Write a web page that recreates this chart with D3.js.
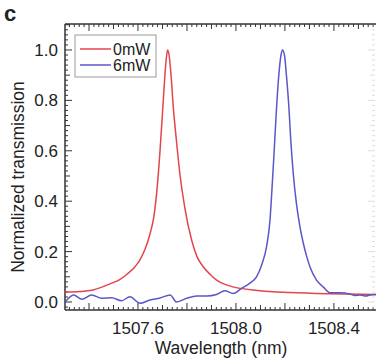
<!DOCTYPE html>
<html>
<head>
<meta charset="utf-8">
<script src="https://cdn.jsdelivr.net/npm/d3@7"></script>
<style>
  body { margin: 0; background: #fff; }
  text { font-family: "Liberation Sans", Arial, sans-serif; fill: #222; }
</style>
</head>
<body>
<div id="chart"></div>
<script>
// data
const redWave = [1507.302, 1507.363, 1507.416, 1507.486, 1507.527, 1507.555, 1507.588, 1507.608, 1507.629, 1507.649,
  1507.665, 1507.678, 1507.690, 1507.702, 1507.710, 1507.716, 1507.721, 1507.727, 1507.735, 1507.744,
  1507.757, 1507.771, 1507.792, 1507.819, 1507.841, 1507.864, 1507.894, 1507.921, 1507.955, 1507.988,
  1508.098, 1508.220, 1508.384, 1508.580];
const redVal = [0.040, 0.042, 0.048, 0.072, 0.090, 0.110, 0.140, 0.167, 0.210, 0.270,
  0.340, 0.450, 0.600, 0.780, 0.900, 0.970, 1.000, 0.980, 0.900, 0.775,
  0.640, 0.510, 0.370, 0.246, 0.180, 0.143, 0.110, 0.087, 0.070, 0.060,
  0.045, 0.038, 0.033, 0.030];

const blueWave = [1507.303, 1507.337, 1507.371, 1507.411, 1507.452, 1507.493, 1507.533, 1507.567, 1507.608, 1507.649,
  1507.690, 1507.731, 1507.758, 1507.799, 1507.840, 1507.880, 1507.921, 1507.955, 1507.989, 1508.023,
  1508.057, 1508.084, 1508.106, 1508.125, 1508.139, 1508.146, 1508.155, 1508.166, 1508.175, 1508.184,
  1508.190, 1508.198, 1508.206, 1508.216, 1508.224, 1508.234, 1508.247, 1508.261, 1508.275, 1508.289,
  1508.302, 1508.329, 1508.356, 1508.384, 1508.424, 1508.465, 1508.486, 1508.506, 1508.531, 1508.547, 1508.580];
const blueVal = [0.000, 0.028, 0.011, 0.028, 0.015, 0.017, 0.005, 0.021, -0.005, 0.008,
  0.016, 0.028, 0.000, 0.015, 0.024, 0.024, 0.030, 0.045, 0.034, 0.054,
  0.075, 0.100, 0.150, 0.220, 0.325, 0.430, 0.580, 0.775, 0.900, 0.980,
  1.000, 0.980, 0.900, 0.775, 0.640, 0.510, 0.390, 0.300, 0.233, 0.180,
  0.140, 0.087, 0.060, 0.037, 0.037, 0.032, 0.026, 0.028, 0.024, 0.028, 0.030];

const seriesNames = ['0mW', '6mW'];
const seriesColors = ['#e2454b', '#5b57c9'];
const xTicks = [1507.6, 1508.0, 1508.4];
const yTicks = [0.0, 0.2, 0.4, 0.6, 0.8, 1.0];

const W = 376, H = 358;
const plotLeft = 65, plotRight = 378, plotTop = 24, plotBottom = 310;

const svg = d3.select('#chart').append('svg')
  .attr('width', W).attr('height', H);

const x = d3.scaleLinear().domain([1507.302, 1508.580]).range([plotLeft, plotRight]);
const y = d3.scaleLinear().domain([-0.0317, 1.103]).range([plotBottom, plotTop]);

const axisColor = '#333';

// minor / major ticks, all pointing inward
const g = svg.append('g');
d3.range(1507.32, 1508.58, 0.02).forEach(v => {
  const k = Math.round(v * 100);
  const len = k % 20 === 0 ? 7 : (k % 10 === 0 ? 5 : 3);
  g.append('line').attr('x1', x(v)).attr('x2', x(v))
    .attr('y1', plotBottom).attr('y2', plotBottom - len)
    .attr('stroke', axisColor).attr('stroke-width', 1);
  g.append('line').attr('x1', x(v)).attr('x2', x(v))
    .attr('y1', plotTop).attr('y2', plotTop + len)
    .attr('stroke', axisColor).attr('stroke-width', 1);
});
d3.range(-0.02, 1.1, 0.02).forEach(v => {
  const k = Math.round(v * 100);
  const len = k % 20 === 0 ? 7 : (k % 10 === 0 ? 5 : 3);
  g.append('line').attr('x1', plotLeft).attr('x2', plotLeft + len)
    .attr('y1', y(v)).attr('y2', y(v))
    .attr('stroke', axisColor).attr('stroke-width', 1);
  g.append('line').attr('x1', 375).attr('x2', 375 - len)
    .attr('y1', y(v)).attr('y2', y(v))
    .attr('stroke', '#ddd').attr('stroke-width', 1);
});

// frame
g.append('line').attr('x1', plotLeft).attr('x2', plotRight).attr('y1', plotTop).attr('y2', plotTop)
  .attr('stroke', axisColor).attr('stroke-width', 1.5);
g.append('line').attr('x1', plotLeft).attr('x2', plotRight).attr('y1', plotBottom).attr('y2', plotBottom)
  .attr('stroke', axisColor).attr('stroke-width', 1.5);
g.append('line').attr('x1', plotLeft).attr('x2', plotLeft).attr('y1', plotTop).attr('y2', plotBottom)
  .attr('stroke', axisColor).attr('stroke-width', 1.5);

// tick labels
xTicks.forEach(v => {
  svg.append('text').attr('x', x(v)).attr('y', 334)
    .attr('text-anchor', 'middle').style('font-size', '17px')
    .text(d3.format('.1f')(v));
});
yTicks.forEach(v => {
  svg.append('text').attr('x', 58).attr('y', y(v) + 6)
    .attr('text-anchor', 'end').style('font-size', '17px')
    .text(d3.format('.1f')(v));
});

// axis titles
svg.append('text').attr('x', 221).attr('y', 354)
  .attr('text-anchor', 'middle').style('font-size', '17.5px')
  .text('Wavelength (nm)');
svg.append('text')
  .attr('transform', `translate(24, ${(plotTop + plotBottom) / 2 + 10}) rotate(-90)`)
  .attr('text-anchor', 'middle').style('font-size', '17.5px')
  .text('Normalized transmission');

svg.append('text').attr('x', 4).attr('y', 21)
  .style('font-size', '22px').style('font-weight', 'bold')
  .text('c');

// curves
const line = d3.line()
  .x(d => x(d[0])).y(d => y(d[1]))
  .curve(d3.curveMonotoneX);

svg.append('clipPath').attr('id', 'clip')
  .append('rect').attr('x', plotLeft).attr('y', plotTop)
  .attr('width', plotRight - plotLeft).attr('height', plotBottom - plotTop);

const redData = redWave.map((w, i) => [w, redVal[i]]);
const blueData = blueWave.map((w, i) => [w, blueVal[i]]);

svg.append('path').datum(redData)
  .attr('clip-path', 'url(#clip)')
  .attr('fill', 'none').attr('stroke', seriesColors[0]).attr('stroke-width', 1.5)
  .attr('d', line);
svg.append('path').datum(blueData)
  .attr('clip-path', 'url(#clip)')
  .attr('fill', 'none').attr('stroke', seriesColors[1]).attr('stroke-width', 1.5)
  .attr('d', line);

// legend
const legend = svg.append('g');
legend.append('rect').attr('x', 75).attr('y', 35).attr('width', 81).attr('height', 42)
  .attr('fill', '#fff').attr('stroke', '#999').attr('stroke-width', 1);
seriesNames.forEach((name, i) => {
  const ly = 49 + i * 16;
  legend.append('line').attr('x1', 80).attr('x2', 111).attr('y1', ly).attr('y2', ly)
    .attr('stroke', seriesColors[i]).attr('stroke-width', 1.5);
  legend.append('text').attr('x', 113).attr('y', ly + 6)
    .style('font-size', '16px').text(name);
});
</script>
</body>
</html>
